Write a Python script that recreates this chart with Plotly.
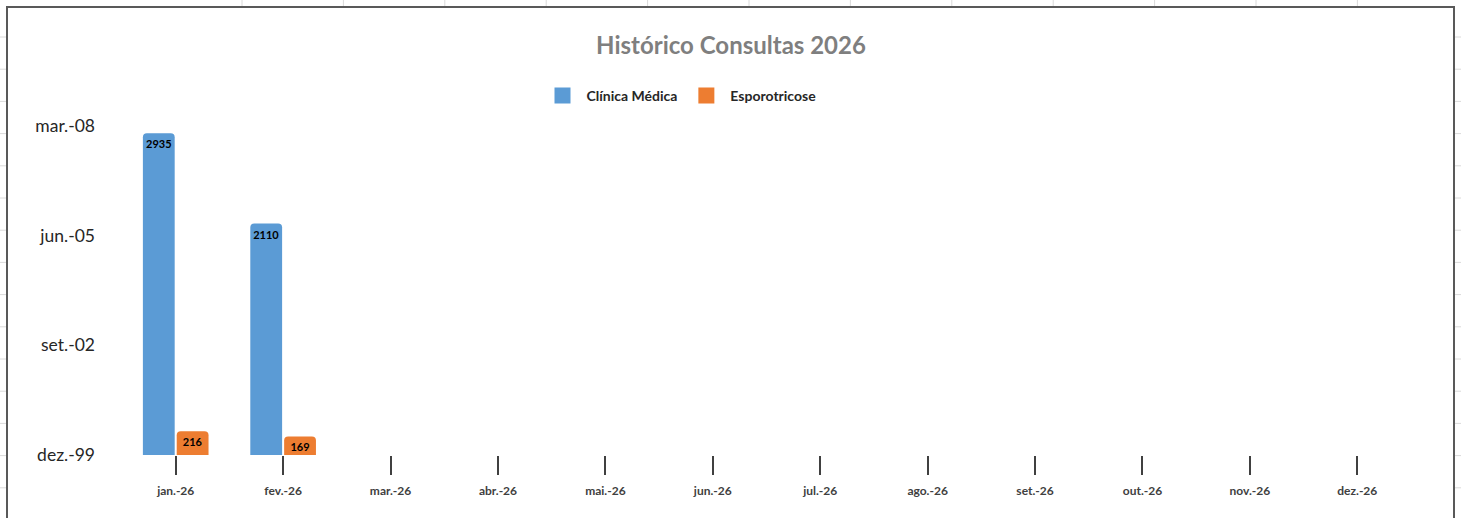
import plotly.graph_objects as go

MESES = ["jan.-26", "fev.-26", "mar.-26", "abr.-26", "mai.-26", "jun.-26",
         "jul.-26", "ago.-26", "set.-26", "out.-26", "nov.-26", "dez.-26"]
CLINICA_MEDICA = [2935, 2110, None, None, None, None, None, None, None, None, None, None]
ESPOROTRICOSE = [216, 169, None, None, None, None, None, None, None, None, None, None]
Y_TICKS = [0, 1000, 2000, 3000]
Y_TICK_TEXT = ["dez.-99", "set.-02", "jun.-05", "mar.-08"]

AZUL = "#5B9BD5"
LARANJA = "#ED7D31"
FONT = "Lato, Open Sans, sans-serif"

W, H = 1461, 518
L, R, T, B = 122, 50, 126, 63


def _label(vals):
    return [f"{v}" if v is not None else "" for v in vals]


fig = go.Figure()
for name, vals, color in [("Clínica Médica", CLINICA_MEDICA, AZUL),
                          ("Esporotricose", ESPOROTRICOSE, LARANJA)]:
    fig.add_trace(go.Bar(
        x=MESES, y=vals, name=name,
        marker=dict(color=color, cornerradius=4, line=dict(width=0)),
        text=_label(vals), textposition="inside", insidetextanchor="end", textangle=0,
        textfont=dict(size=11, color="#000000", family=FONT, weight="bold"),
        constraintext="none", showlegend=False,
    ))
    # legend swatch (bigger square than the default bar symbol)
    fig.add_trace(go.Scatter(
        x=[None], y=[None], mode="markers", name=name,
        marker=dict(symbol="square", size=16, color=color),
    ))


# chart border and the spreadsheet grid around it (pixel -> paper coords)
def px_x(p):
    return (p - L) / (W - L - R)


def px_y(p):
    return (H - B - p) / (H - T - B)


GRID = "#dadada"
shapes = [dict(type="rect", xref="paper", yref="paper",
               x0=px_x(7), x1=px_x(1454), y0=px_y(530), y1=px_y(7),
               line=dict(color="#595959", width=2), layer="above")]
for k in range(12):
    gx = 242 + k * 101.4
    shapes.append(dict(type="line", xref="paper", yref="paper",
                       x0=px_x(gx), x1=px_x(gx), y0=px_y(6), y1=px_y(0),
                       line=dict(color=GRID, width=1)))
for k in range(16):
    gy = 37 + k * 32.2
    shapes.append(dict(type="line", xref="paper", yref="paper",
                       x0=px_x(0), x1=px_x(6), y0=px_y(gy), y1=px_y(gy),
                       line=dict(color=GRID, width=1)))
    shapes.append(dict(type="line", xref="paper", yref="paper",
                       x0=px_x(1455), x1=px_x(1461), y0=px_y(gy), y1=px_y(gy),
                       line=dict(color=GRID, width=1)))

fig.update_layout(
    width=W, height=H,
    margin=dict(l=L, r=R, t=T, b=B),
    plot_bgcolor="white", paper_bgcolor="white",
    font=dict(family=FONT, color="#404040"),
    title=dict(text="<b>Histórico Consultas 2026</b>", x=px_x(731), xanchor="center", xref="paper",
               y=1 - 46 / H, yanchor="middle", yref="container",
               font=dict(size=24, color="#7f7f7f", family=FONT)),
    barmode="group", bargap=0.37, bargroupgap=0.06,
    uniformtext=dict(minsize=11, mode="show"),
    legend=dict(orientation="h", x=px_x(680), xanchor="center",
                y=px_y(96), yanchor="middle",
                font=dict(size=14, color="#262626", family=FONT, weight="bold"),
                itemwidth=38, bgcolor="rgba(0,0,0,0)"),
    shapes=shapes,
)
fig.update_xaxes(
    type="category", range=[-0.5, 11.5], showgrid=False, showline=False, zeroline=False,
    ticks="outside", ticklen=19, tickwidth=2, tickcolor="#404040",
    ticklabelstandoff=6,
    tickfont=dict(size=12, color="#404040", family=FONT, weight="bold"),
)
fig.update_yaxes(
    range=[0, 3000], tickvals=Y_TICKS, ticktext=Y_TICK_TEXT,
    showgrid=False, showline=False, zeroline=False, ticks="",
    ticklabelstandoff=26,
    tickfont=dict(size=17.5, color="#262626", family=FONT),
)

# drop the page's default body margin so the figure sits at the window origin
fig.write_html("out.html", config={"displayModeBar": False},
               post_script="document.body.style.margin='0';")
